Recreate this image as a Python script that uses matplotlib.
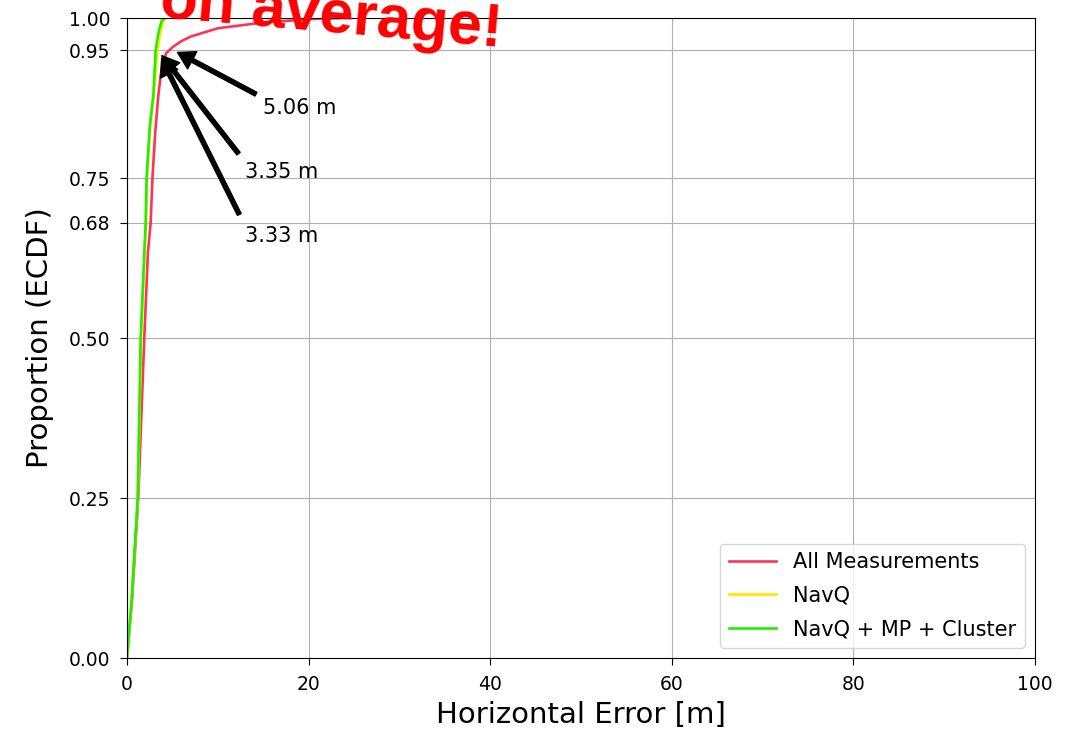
import matplotlib
matplotlib.use("Agg")
import matplotlib.pyplot as plt

# ECDF curves: error [m] vs cumulative proportion
all_err = [0, 0.55, 1.24, 1.9, 2.3, 2.6, 2.8, 3.1, 3.45, 3.8, 4.3, 5.06, 6, 7, 10, 15, 18, 21, 24]
all_prop = [0, 0.09, 0.25, 0.5, 0.633, 0.68, 0.75, 0.82, 0.88, 0.92, 0.945, 0.955,
            0.964, 0.971, 0.984, 0.993, 0.996, 0.999, 1.0]

navq_err = [0, 0.5, 1.2, 1.55, 1.95, 2.1, 2.2, 2.55, 2.95, 3.35, 3.7, 4.0, 4.3]
navq_prop = [0, 0.09, 0.25, 0.5, 0.633, 0.68, 0.75, 0.83, 0.88, 0.95, 0.98, 0.995, 1.0]

clust_err = [0, 0.5, 1.17, 1.5, 1.9, 2.05, 2.15, 2.5, 2.9, 3.15, 3.5, 3.8, 4.1]
clust_prop = [0, 0.09, 0.25, 0.5, 0.633, 0.68, 0.75, 0.83, 0.88, 0.95, 0.98, 0.995, 1.0]

labels = ["All Measurements", "NavQ", "NavQ + MP + Cluster"]
p95 = [5.06, 3.35, 3.33]
note_pos = [(15, 0.85), (13, 0.75), (13, 0.65)]
ytick_vals = [0.0, 0.25, 0.50, 0.68, 0.75, 0.95, 1.00]

fig = plt.figure(figsize=(10.72, 7.33), dpi=100)
ax = fig.add_axes([0.1185, 0.1023, 0.847, 0.8731])

ax.plot(all_err, all_prop, color="#ff3355", lw=1.9, label=labels[0])
ax.plot(navq_err, navq_prop, color="#ffe600", lw=1.9, label=labels[1])
ax.plot(clust_err, clust_prop, color="#22ee00", lw=1.9, label=labels[2])

for val, (tx, ty) in zip(p95, note_pos):
    ax.annotate(f"{val:.2f} m", xy=(val, 0.95), xytext=(tx, ty), fontsize=15,
                arrowprops=dict(facecolor="black", shrink=0.05, width=3, headwidth=14))

ax.set_xlim(0, 100)
ax.set_ylim(0, 1)
ax.set_yticks(ytick_vals)
ax.set_yticklabels([f"{v:.2f}" for v in ytick_vals])
ax.tick_params(labelsize=13.5, length=5, pad=7)
ax.grid(True)
ax.set_xlabel("Horizontal Error [m]", fontsize=21, labelpad=5)
ax.set_ylabel("Proportion (ECDF)", fontsize=21, labelpad=11)
ax.legend(loc="lower right", fontsize=15, labelspacing=0.65, handlelength=2.3)

# big red caption sticking in from the top edge
fig.text(0.148, 0.977, "on average!", color="red", fontsize=44, fontweight="bold",
         family="Liberation Sans", rotation=-5, rotation_mode="anchor",
         ha="left", va="baseline")

fig.savefig("out.png", dpi=100)
